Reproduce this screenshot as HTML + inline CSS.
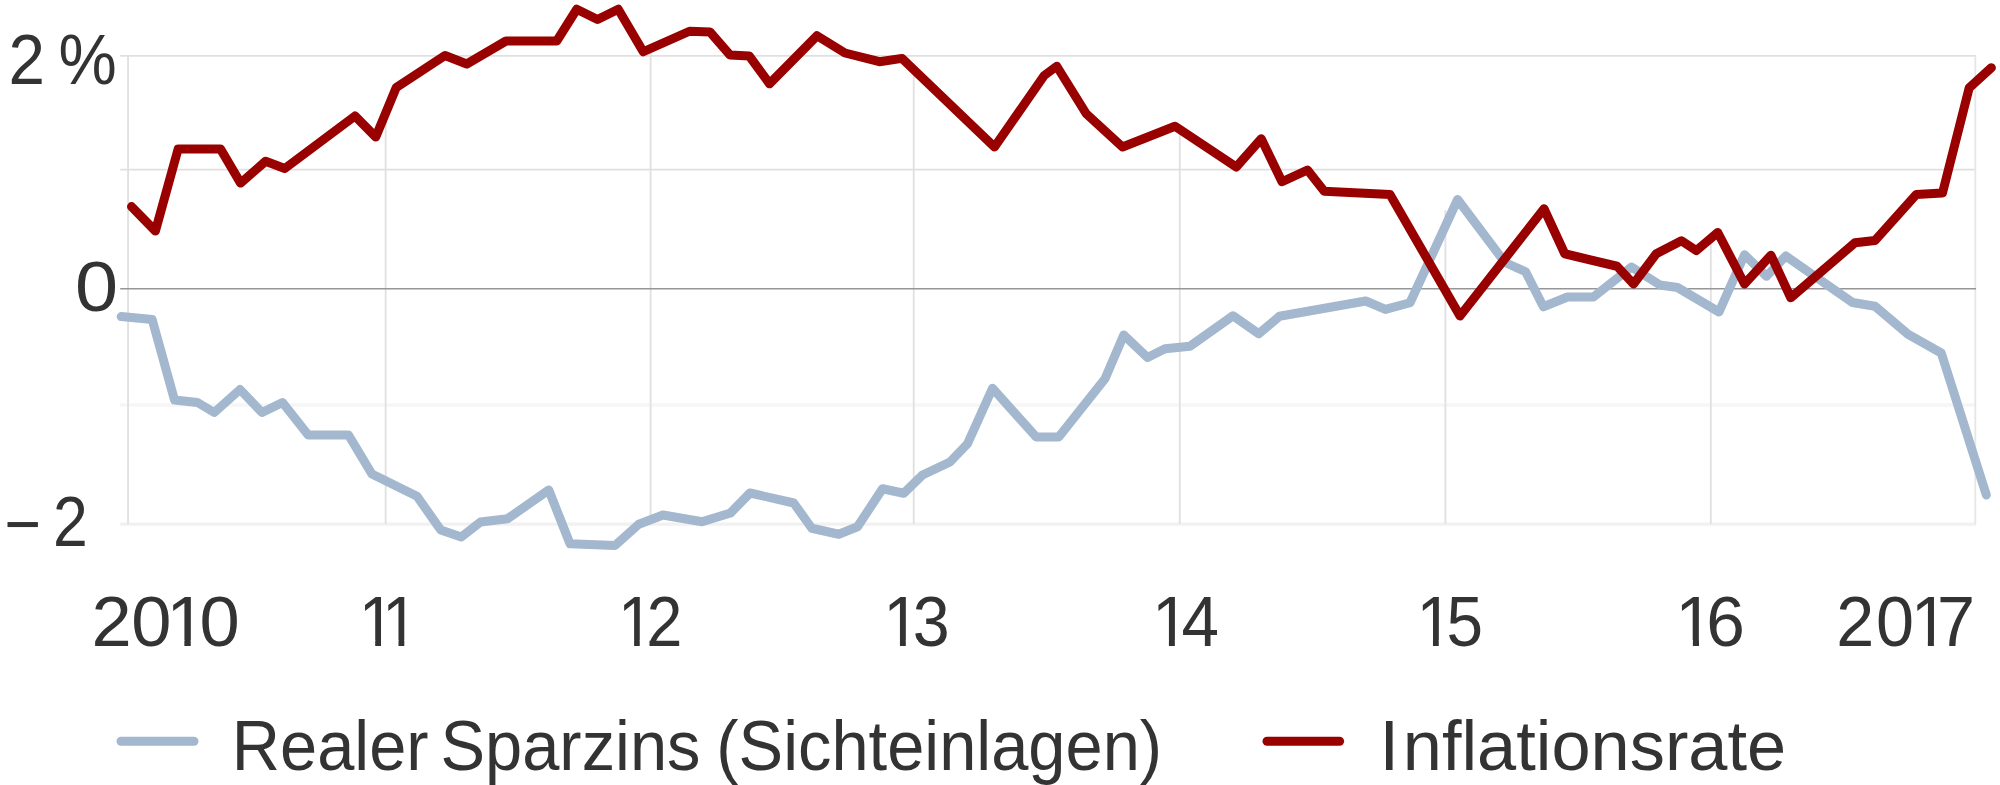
<!DOCTYPE html>
<html lang="de">
<head>
<meta charset="utf-8">
<title>Realer Sparzins und Inflationsrate</title>
<style>
html,body{margin:0;padding:0;background:#fff;}
body{width:2000px;height:785px;overflow:hidden;}
svg{display:block;}
text{font-family:"Liberation Sans",sans-serif;fill:#333;font-size:70.5px;}
</style>
</head>
<body>
<svg width="2000" height="785" viewBox="0 0 2000 785">
<rect width="2000" height="785" fill="#fff"/>
<g stroke="#e0e0e0" stroke-width="1.8" fill="none">
<line x1="120.2" y1="55.85" x2="1976" y2="55.85"/>
<line x1="120.2" y1="169.65" x2="1976" y2="169.65"/>
<line x1="120.2" y1="405" x2="1976" y2="405" stroke="#f6f6f6" stroke-width="3.4"/>
<line x1="120.2" y1="524.1" x2="1976" y2="524.1" stroke="#f1f1f1" stroke-width="3.4"/>
<line x1="128.05" y1="55.6" x2="128.05" y2="524"/>
<line x1="1975.3" y1="55.6" x2="1975.3" y2="524" stroke="#e6e6e6"/>
<line x1="385.65" y1="114" x2="385.65" y2="524"/><line x1="650.6" y1="44" x2="650.6" y2="524"/><line x1="913.7" y1="70" x2="913.7" y2="524"/><line x1="1179.8" y1="129" x2="1179.8" y2="524"/><line x1="1445.4" y1="210" x2="1445.4" y2="524"/><line x1="1710.8" y1="239" x2="1710.8" y2="524"/>
</g>
<line x1="120.2" y1="288.75" x2="1976" y2="288.75" stroke="#969696" stroke-width="1.7"/>
<polyline points="121.2,316.6 152.2,319.6 174.5,400 197.5,402.5 214.25,412.5 240,389.5 262,412.5 282.5,402.5 308.2,435 348.5,435 371.9,474 417,496.25 440.75,530 461.25,537 480.5,522 507.5,518.75 548.75,490 570,543.75 615,545.5 638.75,524.25 663,515 702,521.75 730.5,513 750,493 793.75,503 811.75,528.25 838.75,534.25 857.5,526.75 882.5,488.75 903.75,493.25 922.5,475 950,462 967.5,443.75 992.5,388.25 1036.25,437 1058.75,437 1105,378.75 1123.75,335 1147.5,357.5 1165,348.75 1190,346.25 1233,315.75 1258.75,333.75 1279.5,316.25 1365.75,301 1385.4,309.4 1410,302.75 1457.6,199.5 1505,262.5 1525.6,271.75 1543.4,306.75 1567.5,297 1593.4,297 1631.5,267 1660,285 1677.5,287.5 1719,312 1744.5,254.75 1766.5,276.25 1785.75,256 1852.5,302.5 1875,306.25 1908,334.25 1941.25,353 1986.3,494.9" fill="none" stroke="#a3b7ce" stroke-width="9" stroke-linecap="round" stroke-linejoin="round"/>
<polyline points="131.5,206.6 155.4,231 178.1,149.1 220.6,149.1 240.6,183.1 265.6,161.25 284.75,168.5 355,116 375.75,137 396.25,87.5 445,55.5 466.75,64 506,41 556.75,41 576.75,9.25 597.5,19.5 618.25,9.25 643.25,51.75 689.5,31.25 710,32 730,55 749.25,56 769.5,83.75 817,35.75 845,53 879.4,61.7 902.1,58.4 994.5,147 1044.2,75.5 1056.75,66.25 1086.25,113.75 1122.5,147 1175,126.25 1236.25,167 1261.25,138.75 1282,181.75 1307.5,170 1324.25,191.25 1390,194.4 1460,316 1544,208.75 1564.75,253.75 1617,266.25 1633.5,284 1656.25,253.75 1681.4,240.75 1696.25,250.6 1717.75,232.5 1744.5,284 1770.9,255.25 1790.75,297.75 1855,242.75 1875,240.5 1916.25,194.5 1942.5,193 1969.2,87.8 1991.4,67.7" fill="none" stroke="#990000" stroke-width="9" stroke-linecap="round" stroke-linejoin="round"/>
<text transform="scale(0.9291,1)" x="9.03 48.24 62.94" y="84.2">2 %</text>
<text transform="scale(1.0979,1)" x="68.29" y="310.9">0</text>
<text transform="scale(0.8869,1)" x="4.77 45.94 59.89" y="548.2 545.9 545.9">− 2</text>
<text transform="scale(1.0256,1)" x="89.23 127.99 162.03 194.54" y="646.1">2010</text><rect x="170.69" y="639.93" width="13.67" height="7.5" fill="#fff"/><rect x="190.75" y="639.93" width="13.11" height="7.5" fill="#fff"/>
<text transform="scale(0.9300,1)" x="385.72 410.77" y="646.1">11</text><rect x="362.71" y="639.93" width="12.49" height="7.5" fill="#fff"/><rect x="381.00" y="639.93" width="11.98" height="7.5" fill="#fff"/><rect x="386.01" y="639.93" width="12.49" height="7.5" fill="#fff"/><rect x="404.30" y="639.93" width="11.98" height="7.5" fill="#fff"/>
<text transform="scale(0.9092,1)" x="679.71 711.29" y="646.1">12</text><rect x="621.85" y="639.93" width="12.24" height="7.5" fill="#fff"/><rect x="639.75" y="639.93" width="9.75" height="7.5" fill="#fff"/>
<text transform="scale(0.9424,1)" x="937.21 968.67" y="646.1">13</text><rect x="887.28" y="639.93" width="12.65" height="7.5" fill="#fff"/><rect x="905.80" y="639.93" width="12.13" height="7.5" fill="#fff"/>
<text transform="scale(0.9557,1)" x="1205.41 1236.17" y="646.1">14</text><rect x="1156.09" y="639.93" width="12.81" height="7.5" fill="#fff"/><rect x="1174.85" y="639.93" width="12.28" height="7.5" fill="#fff"/>
<text transform="scale(0.9319,1)" x="1519.89 1552.30" y="646.1">15</text><rect x="1420.43" y="639.93" width="12.52" height="7.5" fill="#fff"/><rect x="1438.75" y="639.93" width="12.00" height="7.5" fill="#fff"/>
<text transform="scale(0.9852,1)" x="1700.51 1731.91" y="646.1">16</text><rect x="1679.69" y="639.93" width="13.18" height="7.5" fill="#fff"/><rect x="1699.00" y="639.93" width="12.63" height="7.5" fill="#fff"/>
<text transform="scale(0.9692,1)" x="1894.54 1935.63 1971.41 1998.64" y="646.1">2017</text><rect x="1914.88" y="639.93" width="12.98" height="7.5" fill="#fff"/><rect x="1933.90" y="639.93" width="12.44" height="7.5" fill="#fff"/>
<text transform="scale(0.948,1)" y="770.4"><tspan x="244.43">Realer</tspan> <tspan x="464.63">Sparzins</tspan> <tspan x="755.65">(Sichteinlagen)</tspan></text>
<text transform="scale(0.9983,1)" x="1381.92 1405.16" y="770.4">Inflationsrate</text>
<line x1="121" y1="741.3" x2="194" y2="741.3" stroke="#a3b7ce" stroke-width="9" stroke-linecap="round"/>
<line x1="1267" y1="741.3" x2="1339.6" y2="741.3" stroke="#990000" stroke-width="9" stroke-linecap="round"/>
</svg>
</body>
</html>
